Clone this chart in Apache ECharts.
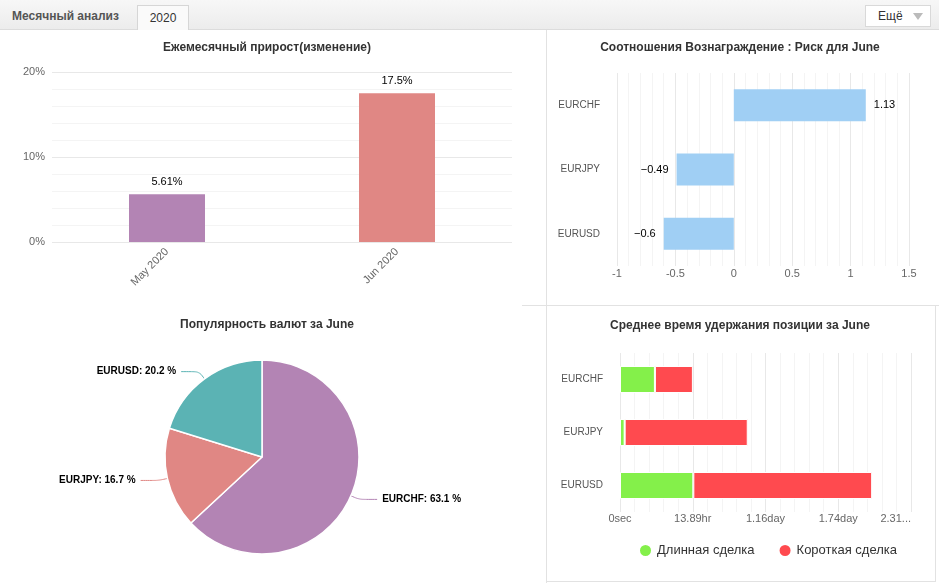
<!DOCTYPE html>
<html>
<head>
<meta charset="utf-8">
<title>Месячный анализ</title>
<script src="https://cdn.jsdelivr.net/npm/echarts@6/dist/echarts.min.js"></script>
<style>
    body { margin: 0; background: #fff; font-family: "Liberation Sans", Arial, sans-serif; }
    #main { position: absolute; left: 0; top: 0; width: 939px; height: 583px; }
    #tabs {
        position: absolute; left: 0; top: 0; width: 939px; height: 29px; z-index: 2;
        background: linear-gradient(#f7f7f7, #ececec);
        border-bottom: 1px solid #dcdcdc;
    }
    #tabs .name { position: absolute; left: 12px; top: 9px; font-size: 12px; font-weight: bold; color: #555; }
    #tabs .tab {
        position: absolute; left: 137px; top: 5px; width: 50px; height: 24px;
        background: #fafafa; border: 1px solid #d6d6d6; border-bottom: none;
        font-size: 12px; color: #333; text-align: center; line-height: 25px;
    }
    #tabs .more {
        position: absolute; left: 865px; top: 5px; width: 64px; height: 20px;
        background: #fff; border: 1px solid #d9d9d9;
        font-size: 12px; color: #333; line-height: 20px;
    }
    #tabs .more span { position: absolute; left: 12px; }
    #tabs .more i {
        position: absolute; left: 47px; top: 7px; width: 0; height: 0;
        border-left: 5px solid transparent; border-right: 5px solid transparent; border-top: 7px solid #bbb;
    }
    .sep { position: absolute; background: #e2e2e2; z-index: 1; }
</style>
</head>
<body>
<div id="tabs">
    <div class="name">Месячный анализ</div>
    <div class="tab">2020</div>
    <div class="more"><span>Ещё</span><i></i></div>
</div>
<div id="main"></div>
<!-- panel borders -->
<div class="sep" style="left:546px;top:30px;width:1px;height:553px"></div>
<div class="sep" style="left:522px;top:305px;width:417px;height:1px"></div>
<div class="sep" style="left:935px;top:305px;width:1px;height:277px"></div>
<div class="sep" style="left:546px;top:581px;width:390px;height:1px"></div>
<script>
'use strict'
// monthly growth, %
var months = ['May 2020', 'Jun 2020'];
var growth = [5.61, 17.5];

// currency pairs (top to bottom)
var pairs = ['EURCHF', 'EURJPY', 'EURUSD'];
var rewardRisk = [1.13, -0.49, -0.6];
var popularity = [63.1, 16.7, 20.2];

// average holding time, seconds
var holdLong = [24000, 3200, 50400];
var holdShort = [26100, 84600, 122900];
var holdTicks = ['0sec', '13.89hr', '1.16day', '1.74day', '2.31...'];

var growthColors = ['#b384b4', '#e08784'];
var pieColors = ['#b384b4', '#e08784', '#5bb3b4'];

var splitGray = { lineStyle: { color: '#e8e8e8' } };
var minorGray = { show: true, lineStyle: { color: '#f4f4f4' } };

var titleStyle = { fontSize: 12, fontWeight: 'bold', color: '#333' };

var option = {
    textStyle: { fontFamily: '"Liberation Sans", Arial, sans-serif' },
    animation: false,
    title: [
        { text: 'Ежемесячный прирост(изменение)', left: 262, top: 37, textAlign: 'center', textStyle: titleStyle },
        { text: 'Соотношения Вознаграждение : Риск для June', left: 735, top: 37, textAlign: 'center', textStyle: titleStyle },
        { text: 'Популярность валют за June', left: 262, top: 314, textAlign: 'center', textStyle: titleStyle },
        { text: 'Среднее время удержания позиции за June', left: 735, top: 315, textAlign: 'center', textStyle: titleStyle }
    ],
    legend: {
        data: ['Длинная сделка', 'Короткая сделка'],
        left: 633,
        top: 538,
        icon: 'circle',
        itemWidth: 13,
        itemHeight: 13,
        itemGap: 23,
        textStyle: { fontSize: 13, color: '#333' }
    },
    grid: [
        { left: 52, top: 72, width: 460, height: 170 },
        { left: 617, top: 73, width: 292, height: 193 },
        { left: 620, top: 353, width: 291, height: 159 }
    ],
    xAxis: [
        {
            type: 'category',
            gridIndex: 0,
            data: months,
            axisLine: { show: false },
            axisTick: { show: false },
            axisLabel: { color: '#666', fontSize: 11, rotate: 45, margin: 8 }
        },
        {
            type: 'value',
            gridIndex: 1,
            min: -1,
            max: 1.5,
            interval: 0.5,
            axisLabel: { color: '#666', fontSize: 11, margin: 2 },
            splitLine: splitGray,
            minorSplitLine: minorGray
        },
        {
            type: 'value',
            gridIndex: 2,
            min: 0,
            max: 200000,
            interval: 50000,
            axisLabel: {
                color: '#666',
                fontSize: 11,
                margin: 1,
                alignMaxLabel: 'right',
                formatter: function (v) { return holdTicks[Math.round(v / 50000)]; }
            },
            splitLine: splitGray,
            minorSplitLine: minorGray
        }
    ],
    yAxis: [
        {
            type: 'value',
            gridIndex: 0,
            min: 0,
            max: 20,
            interval: 10,
            axisLabel: { color: '#666', fontSize: 11, margin: 7, formatter: '{value}%' },
            splitLine: splitGray,
            minorSplitLine: minorGray
        },
        {
            type: 'category',
            gridIndex: 1,
            data: pairs,
            inverse: true,
            axisLine: { show: false },
            axisTick: { show: false },
            axisLabel: { color: '#555', fontSize: 10, margin: 17 }
        },
        {
            type: 'category',
            gridIndex: 2,
            data: pairs,
            inverse: true,
            axisLine: { show: false },
            axisTick: { show: false },
            axisLabel: { color: '#555', fontSize: 10, margin: 17 }
        }
    ],
    series: [
        {
            name: 'growth',
            type: 'bar',
            xAxisIndex: 0,
            yAxisIndex: 0,
            barWidth: 76,
            data: growth.map(function (v, i) {
                return { value: v, itemStyle: { color: growthColors[i] } };
            }),
            label: { show: true, position: 'top', color: '#000', fontSize: 11, distance: 7, formatter: '{c}%' }
        },
        {
            name: 'rewardRisk',
            type: 'bar',
            xAxisIndex: 1,
            yAxisIndex: 1,
            barWidth: 32,
            itemStyle: { color: '#a0cff4' },
            data: rewardRisk.map(function (v) {
                return { value: v, label: { position: v < 0 ? 'left' : 'right' } };
            }),
            label: {
                show: true,
                color: '#000',
                fontSize: 11,
                distance: 8,
                formatter: function (p) { return String(p.value).replace('-', '−'); }
            }
        },
        {
            name: 'popularity',
            type: 'pie',
            center: [262, 457],
            radius: 97,
            startAngle: 90,
            clockwise: true,
            data: pairs.map(function (n, i) {
                return { name: n, value: popularity[i], itemStyle: { color: pieColors[i] } };
            }),
            itemStyle: { borderColor: '#fff', borderWidth: 1.5 },
            label: { formatter: '{b}: {c} %', color: '#000', fontSize: 10, fontWeight: 'bold' },
            labelLine: { length: 9, length2: 18, smooth: true, lineStyle: { width: 1 } }
        },
        {
            name: 'Длинная сделка',
            type: 'bar',
            xAxisIndex: 2,
            yAxisIndex: 2,
            stack: 'hold',
            barWidth: 27,
            itemStyle: { color: '#84f04a', borderColor: '#fff', borderWidth: 1 },
            data: holdLong
        },
        {
            name: 'Короткая сделка',
            type: 'bar',
            xAxisIndex: 2,
            yAxisIndex: 2,
            stack: 'hold',
            barWidth: 27,
            itemStyle: { color: '#ff4a4f', borderColor: '#fff', borderWidth: 1 },
            data: holdShort
        }
    ]
};

// 基于准备好的dom，初始化echarts实例
var myChart = echarts.init(document.getElementById('main'));
myChart.setOption(option);
</script>
</body>
</html>
